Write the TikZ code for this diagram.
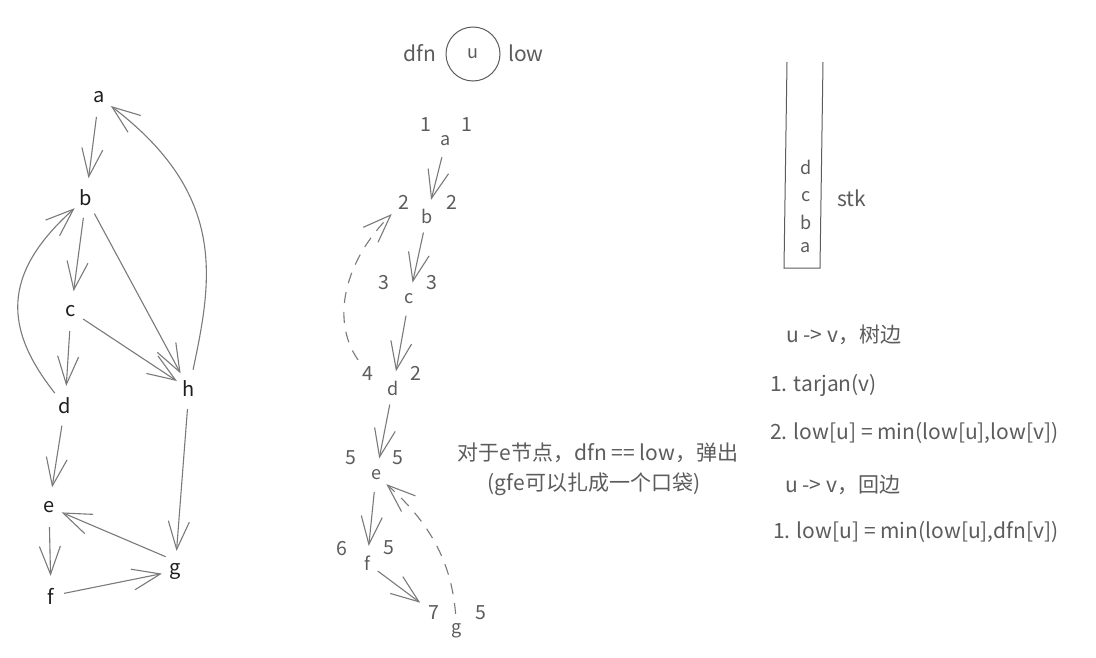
\documentclass[tikz,border=0pt]{standalone}
\usepackage{fontspec}
\setmainfont{Noto Sans CJK SC}
\usetikzlibrary{arrows.meta,shapes.geometric}
\definecolor{ink}{HTML}{5C5C5C}
\definecolor{edgec}{HTML}{7A7A7A}
\definecolor{blk}{HTML}{1E1E1E}
\begin{document}
\begin{tikzpicture}[x=1pt,y=-1pt,
  gn/.style={ellipse, minimum width=26pt, minimum height=40pt, inner sep=0pt, text=blk, font=\fontsize{20}{22}\selectfont},
  tn/.style={ellipse, minimum width=24pt, minimum height=34pt, inner sep=0pt, text=ink, font=\fontsize{18}{20}\selectfont},
  num/.style={circle, minimum size=34pt, inner sep=0pt, text=ink, font=\fontsize{19.5}{21}\selectfont},
  txt/.style={inner sep=0pt, text=ink, font=\fontsize{21}{24}\selectfont},
  arr/.style={draw=edgec, line width=1.1pt, -{Straight Barb[length=28pt,width=21pt]}},
  darr/.style={arr, dash pattern=on 11pt off 9pt},
  stkline/.style={draw=ink, line width=1pt},
]
\useasboundingbox (0,0) rectangle (1096,658);
\fill[white] (0,0) rectangle (1096,658);

% ---------- left graph ----------
\node[gn] (ga) at (99,97) {a};
\node[gn] (gb) at (86,198) {b};
\node[gn] (gc) at (71,311) {c};
\node[gn] (gh) at (189,389) {h};
\node[gn] (gd) at (65,406) {d};
\node[gn] (ge) at (49,507) {e};
\node[gn] (gg) at (175,571) {g};
\node[gn] (gf) at (51,596) {f};

\draw[arr] (ga) -- (gb);
\draw[arr] (gb) -- (gc);
\draw[arr] (gc) -- (gd);
\draw[arr] (gd) -- (ge);
\draw[arr] (ge) -- (gf);
\draw[arr] (gf) -- (gg);
\draw[arr] (gg.north west) -- (ge);
\draw[arr] (gh) -- (gg);
\draw[arr] (gb) -- (gh);
\draw[arr] (gc) -- (gh);
\draw[arr] (gh) .. controls (212,280) and (228,195) .. (ga);
\draw[arr] (gd) .. controls (5,330) and (0,275) .. (gb);

% ---------- legend ----------
\node[txt] (dfnl) at (420,53) {dfn};
\node[circle, draw=ink, line width=1pt, minimum size=54pt, inner sep=0pt, text=ink, font=\fontsize{18}{20}\selectfont] (uc) at (473,54) {u};
\node[txt] (lowl) at (526,53) {low};

% ---------- middle tree ----------
\node[tn] (ta) at (446,141) {a};
\node[num] (a1) at (426,125) {1};
\node[num] (a2) at (467,125) {1};
\node[tn] (tb) at (427,216) {b};
\node[num] (b1) at (404,202) {2};
\node[num] (b2) at (452,202) {2};
\node[tn] (tc) at (409,299) {c};
\node[num] (c1) at (384,283) {3};
\node[num] (c2) at (432,283) {3};
\node[tn] (td) at (393,388) {d};
\node[num] (d1) at (368,374) {4};
\node[num] (d2) at (416,373) {2};
\node[tn] (te) at (376,475) {e};
\node[num] (e1) at (351,458) {5};
\node[num] (e2) at (398,458) {5};
\node[tn] (tf) at (367,563) {f};
\node[num] (f1) at (342,549) {6};
\node[num] (f2) at (389,548) {5};
\node[tn] (tg) at (457,631) {g};
\node[num] (g1) at (434,613) {7};
\node[num] (g2) at (481,613) {5};

\draw[arr] (ta) -- (tb);
\draw[arr] (tb) -- (tc);
\draw[arr] (tc) -- (td);
\draw[arr] (td) -- (te);
\draw[arr] (te) -- (tf);
\draw[arr] (tf) -- (g1);
\draw[darr] (d1) .. controls (330,320) and (345,260) .. (b1);
\draw[darr] (tg) .. controls (452,570) and (436,528) .. (te);

\node[txt] (note1) at (598,453) {对于e节点，dfn == low，弹出};
\node[txt] (note2) at (594,484) {(gfe可以扎成一个口袋)};

% ---------- stack ----------
\draw[stkline] (787,62) -- (784,268) -- (820,268) -- (823,62);
\node[tn] (sd) at (806,167) {d};
\node[tn] (sc) at (806,197) {c};
\node[tn] (sb) at (806,222) {b};
\node[tn] (sa) at (806,248) {a};
\node[txt] (stk) at (852,198) {stk};

% ---------- rules ----------
\node[txt, anchor=west] (r1) at (786,335) {u -> v，树边};
\node[txt, anchor=west] (r2) at (770,385) {1. tarjan(v)};
\node[txt, anchor=west] (r3) at (770,433) {2. low[u] = min(low[u],low[v])};
\node[txt, anchor=west] (r4) at (785,485) {u -> v，回边};
\node[txt, anchor=west] (r5) at (773,532) {1. low[u] = min(low[u],dfn[v])};
\end{tikzpicture}
\end{document}
